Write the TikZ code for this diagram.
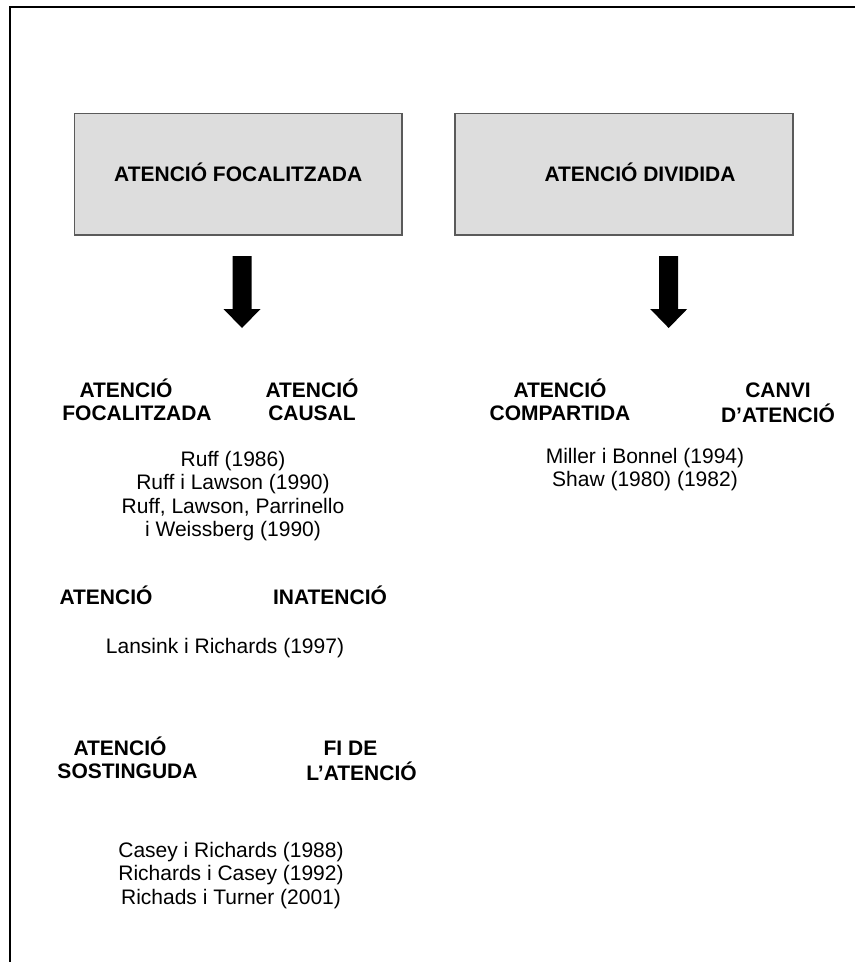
\documentclass[tikz,border=0pt]{standalone}
\usepackage{fontspec}
\setmainfont{Liberation Sans}
\definecolor{boxfill}{HTML}{DDDDDD}
\definecolor{boxedge}{HTML}{5A5A5A}
% stacked, centred lines; the node's baseline is that of the first line
\newcommand{\stack}[1]{\begin{tabular}[t]{@{}c@{}}#1\end{tabular}}
% a line followed by trailing blank space, as typed in the source text
\newcommand{\trail}[2]{#2\hspace*{#1}}
\begin{document}
\begin{tikzpicture}[x=1pt,y=-1pt,
  every node/.style={inner sep=0pt, outer sep=0pt, font=\fontsize{21}{23.5}\selectfont},
  titlebox/.style={draw=boxedge, line width=1.3pt, fill=boxfill,
    minimum height=121.5pt, text height=15pt, text depth=0pt,
    font=\fontsize{21}{23.5}\selectfont\bfseries},
  head/.style={anchor=base, font=\fontsize{21}{23.5}\selectfont\bfseries},
  refs/.style={anchor=base},
  blockarrow/.style={fill=black}
]
\useasboundingbox (0,0) rectangle (855,962);

% frame
\draw[line width=2pt, line join=miter] (10.3,962) -- (10.3,6.5) -- (855,6.5);

% main categories
\node[titlebox, minimum width=327.5pt] (focal) at (238.25,174.25) {ATENCIÓ FOCALITZADA};
\node[titlebox, minimum width=338pt] (divid) at (624,174.25) {\hspace*{32pt}ATENCIÓ DIVIDIDA};

% block arrows below each category
\coordinate (fa) at (242,256);
\coordinate (da) at (668.7,256);
\foreach \c in {fa,da}
  \fill[blockarrow, shift={(\c)}] (-9.5,0) -- (9.5,0) -- (9.5,53) -- (18.5,53)
    -- (0,72) -- (-18.5,53) -- (-9.5,53) -- cycle;

% focused attention: sub-types and references
\node[head] (hfoc) at (137,397) {\stack{\trail{22pt}{ATENCIÓ}\\FOCALITZADA}};
\node[head] (hcau) at (312,397) {\stack{ATENCIÓ\\CAUSAL}};
\node[refs] (rruff) at (233,466) {\stack{Ruff (1986)\\Ruff i Lawson (1990)\\Ruff, Lawson, Parrinello\\i Weissberg (1990)}};

\node[head] (hate) at (106,604) {ATENCIÓ};
\node[head] (hina) at (330,604) {INATENCIÓ};
\node[refs] (rlan) at (225,653) {Lansink i Richards (1997)};

\node[head] (hsos) at (127.5,755) {\stack{\trail{15pt}{ATENCIÓ}\\SOSTINGUDA}};
\node[head] (hfi) at (361.5,755) {\stack{\trail{22pt}{FI DE}\\L’ATENCIÓ}};
\node[refs] (rcas) at (231,857) {\stack{Casey i Richards (1988)\\Richards i Casey (1992)\\Richads i Turner (2001)}};

% divided attention: sub-types and references
\node[head] (hcom) at (560,397) {\stack{ATENCIÓ\\COMPARTIDA}};
\node[head] (hcan) at (778,397) {\stack{CANVI\\D’ATENCIÓ}};
\node[refs] (rmil) at (645,463) {\stack{Miller i Bonnel (1994)\\Shaw (1980) (1982)}};
\end{tikzpicture}
\end{document}
